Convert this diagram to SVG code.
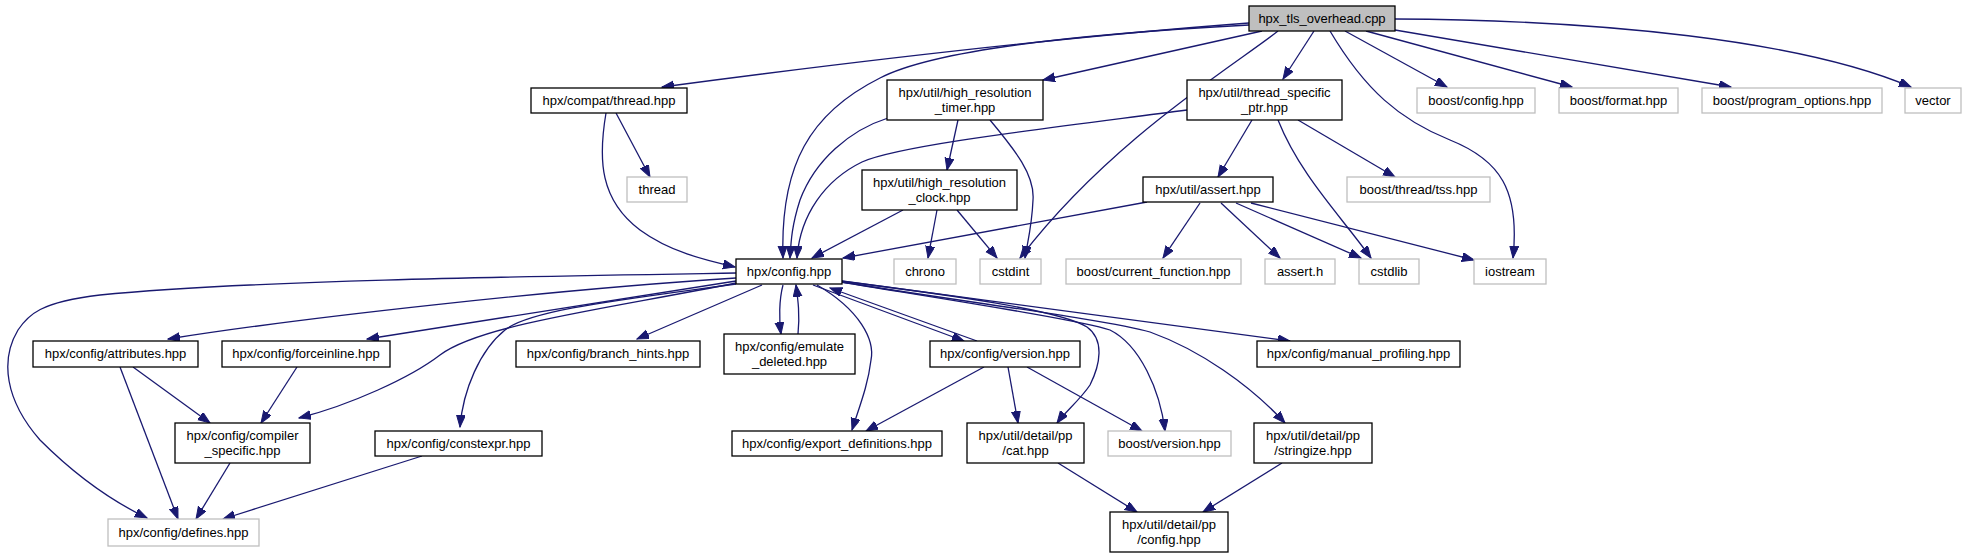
<svg xmlns="http://www.w3.org/2000/svg" width="1967" height="559" viewBox="0 0 1967 559">
<defs>
<marker id="ah" markerUnits="userSpaceOnUse" markerWidth="13" markerHeight="10" refX="12" refY="4.5" orient="auto">
<path d="M0,0 L12,4.5 L0,9 z" fill="#191970" stroke="#191970" stroke-width="1"/>
</marker>
</defs>
<style>
.e{fill:none;stroke:#191970;stroke-width:1.3;marker-end:url(#ah)}
.n rect{fill:#fff;stroke:#000;stroke-width:1.3}
.g rect{fill:#fff;stroke:#bfbfbf;stroke-width:1.3}
.r rect{fill:#bfbfbf;stroke:#000;stroke-width:1.3}
text{font-family:"Liberation Sans",Arial,sans-serif;font-size:13px;text-anchor:middle;fill:#000}
</style>
<rect width="1967" height="559" fill="#fff"/>
<g id="edges">
<path class="e" d="M1249,23 C1050,38 850,62 662,87"/>
<path class="e" d="M1249,25 C1060,35 930,52 880,78 C810,113 780,165 783,258"/>
<path class="e" d="M1262,31 L1043,80"/>
<path class="e" d="M1314,31 L1283,79"/>
<path class="e" d="M1278,31 C1235,65 1110,140 1020,258"/>
<path class="e" d="M1330,31 C1365,90 1400,120 1450,140 C1500,160 1520,190 1513,258"/>
<path class="e" d="M1345,31 L1447,87"/>
<path class="e" d="M1366,31 L1572,87"/>
<path class="e" d="M1395,30 L1731,87"/>
<path class="e" d="M1395,19 C1600,20 1800,40 1911,87"/>
<path class="e" d="M616,113 L650,177"/>
<path class="e" d="M606,113 C598,160 600,200 640,230 C670,252 705,260 735,267"/>
<path class="e" d="M888,118 C850,130 815,160 800,200 C792,225 791,240 790,258"/>
<path class="e" d="M958,120 L947,170"/>
<path class="e" d="M990,120 C1015,150 1035,175 1033,200 C1032,225 1028,240 1025,258"/>
<path class="e" d="M1187,110 C1050,128 900,145 862,162 C825,180 800,215 797,258"/>
<path class="e" d="M1252,120 L1218,177"/>
<path class="e" d="M1278,120 C1300,175 1340,215 1371,258"/>
<path class="e" d="M1298,120 L1395,177"/>
<path class="e" d="M903,210 L812,258"/>
<path class="e" d="M937,210 L928,258"/>
<path class="e" d="M957,210 L997,258"/>
<path class="e" d="M1147,202 L843,258"/>
<path class="e" d="M1200,203 L1163,258"/>
<path class="e" d="M1221,203 L1280,258"/>
<path class="e" d="M1236,203 L1361,258"/>
<path class="e" d="M1251,203 L1474,260"/>
<path class="e" d="M736,273 C550,276 250,280 100,295 C40,302 28,315 18,330 C0,360 5,400 40,440 C80,480 120,505 147,518"/>
<path class="e" d="M736,278 C550,290 300,318 168,339"/>
<path class="e" d="M736,281 L367,339"/>
<path class="e" d="M736,283 C600,310 480,325 440,355 C410,378 350,405 299,418"/>
<path class="e" d="M736,284 C620,300 530,310 505,330 C480,350 463,390 460,427"/>
<path class="e" d="M762,285 L637,339"/>
<path class="e" d="M783,285 C779,300 779,320 781,334"/>
<path class="e" d="M798,334 C800,315 798,300 796,285"/>
<path class="e" d="M817,285 C860,310 875,340 871,360 C868,385 860,405 852,430"/>
<path class="e" d="M813,285 L964,341"/>
<path class="e" d="M977,341 L830,288"/>
<path class="e" d="M840,281 C950,295 1060,310 1087,327 C1105,340 1100,365 1090,385 C1080,400 1065,412 1057,423"/>
<path class="e" d="M841,282 C950,300 1080,320 1110,330 C1140,345 1160,390 1165,431"/>
<path class="e" d="M842,282 C950,300 1110,320 1150,332 C1200,350 1250,385 1285,423"/>
<path class="e" d="M842,281 L1290,341"/>
<path class="e" d="M984,367 L866,431"/>
<path class="e" d="M1008,367 L1018,423"/>
<path class="e" d="M1027,367 L1142,431"/>
<path class="e" d="M133,367 L210,423"/>
<path class="e" d="M120,367 L178,519"/>
<path class="e" d="M297,367 L261,423"/>
<path class="e" d="M230,463 L196,519"/>
<path class="e" d="M422,456 L223,519"/>
<path class="e" d="M1058,463 L1137,512"/>
<path class="e" d="M1282,463 L1203,512"/>
</g>
<g id="tls" class="r"><rect x="1249" y="6" width="146" height="25"/><text x="1322" y="23">hpx_tls_overhead.cpp</text></g>
<g id="compat_thread" class="n"><rect x="531" y="88" width="156" height="25"/><text x="609" y="105">hpx/compat/thread.hpp</text></g>
<g id="hr_timer" class="n"><rect x="887" y="80" width="156" height="40"/><text x="965" y="97">hpx/util/high_resolution</text><text x="965" y="112">_timer.hpp</text></g>
<g id="tsp" class="n"><rect x="1187" y="80" width="155" height="40"/><text x="1264.5" y="97">hpx/util/thread_specific</text><text x="1264.5" y="112">_ptr.hpp</text></g>
<g id="boost_config" class="g"><rect x="1417" y="88" width="118" height="25"/><text x="1476" y="105">boost/config.hpp</text></g>
<g id="boost_format" class="g"><rect x="1559" y="88" width="119" height="25"/><text x="1618.5" y="105">boost/format.hpp</text></g>
<g id="boost_po" class="g"><rect x="1702" y="88" width="180" height="25"/><text x="1792" y="105">boost/program_options.hpp</text></g>
<g id="vector" class="g"><rect x="1905" y="88" width="56" height="25"/><text x="1933" y="105">vector</text></g>
<g id="thread" class="g"><rect x="627" y="177" width="60" height="25"/><text x="657" y="194">thread</text></g>
<g id="hr_clock" class="n"><rect x="862" y="170" width="155" height="40"/><text x="939.5" y="187">hpx/util/high_resolution</text><text x="939.5" y="202">_clock.hpp</text></g>
<g id="assert_hpp" class="n"><rect x="1143" y="177" width="130" height="25"/><text x="1208" y="194">hpx/util/assert.hpp</text></g>
<g id="tss" class="g"><rect x="1347" y="177" width="143" height="25"/><text x="1418.5" y="194">boost/thread/tss.hpp</text></g>
<g id="config" class="n"><rect x="736" y="259" width="106" height="25"/><text x="789" y="276">hpx/config.hpp</text></g>
<g id="chrono" class="g"><rect x="894" y="259" width="62" height="25"/><text x="925" y="276">chrono</text></g>
<g id="cstdint" class="g"><rect x="980" y="259" width="61" height="25"/><text x="1010.5" y="276">cstdint</text></g>
<g id="curfunc" class="g"><rect x="1066" y="259" width="175" height="25"/><text x="1153.5" y="276">boost/current_function.hpp</text></g>
<g id="assert_h" class="g"><rect x="1265" y="259" width="70" height="25"/><text x="1300" y="276">assert.h</text></g>
<g id="cstdlib" class="g"><rect x="1359" y="259" width="60" height="25"/><text x="1389" y="276">cstdlib</text></g>
<g id="iostream" class="g"><rect x="1474" y="259" width="72" height="25"/><text x="1510" y="276">iostream</text></g>
<g id="attributes" class="n"><rect x="33" y="341" width="165" height="26"/><text x="115.5" y="358">hpx/config/attributes.hpp</text></g>
<g id="forceinline" class="n"><rect x="222" y="341" width="168" height="26"/><text x="306" y="358">hpx/config/forceinline.hpp</text></g>
<g id="branch_hints" class="n"><rect x="516" y="341" width="184" height="26"/><text x="608" y="358">hpx/config/branch_hints.hpp</text></g>
<g id="emulate_deleted" class="n"><rect x="724" y="334" width="131" height="40"/><text x="789.5" y="351">hpx/config/emulate</text><text x="789.5" y="366">_deleted.hpp</text></g>
<g id="version" class="n"><rect x="930" y="341" width="150" height="26"/><text x="1005" y="358">hpx/config/version.hpp</text></g>
<g id="manual_profiling" class="n"><rect x="1257" y="341" width="203" height="26"/><text x="1358.5" y="358">hpx/config/manual_profiling.hpp</text></g>
<g id="compiler_specific" class="n"><rect x="175" y="423" width="135" height="40"/><text x="242.5" y="440">hpx/config/compiler</text><text x="242.5" y="455">_specific.hpp</text></g>
<g id="constexpr" class="n"><rect x="375" y="431" width="167" height="25"/><text x="458.5" y="448">hpx/config/constexpr.hpp</text></g>
<g id="export_definitions" class="n"><rect x="732" y="431" width="210" height="25"/><text x="837" y="448">hpx/config/export_definitions.hpp</text></g>
<g id="pp_cat" class="n"><rect x="967" y="423" width="117" height="40"/><text x="1025.5" y="440">hpx/util/detail/pp</text><text x="1025.5" y="455">/cat.hpp</text></g>
<g id="boost_version" class="g"><rect x="1108" y="431" width="123" height="25"/><text x="1169.5" y="448">boost/version.hpp</text></g>
<g id="pp_stringize" class="n"><rect x="1254" y="423" width="118" height="40"/><text x="1313" y="440">hpx/util/detail/pp</text><text x="1313" y="455">/stringize.hpp</text></g>
<g id="defines" class="g"><rect x="108" y="519" width="151" height="27"/><text x="183.5" y="537">hpx/config/defines.hpp</text></g>
<g id="pp_config" class="n"><rect x="1110" y="512" width="118" height="40"/><text x="1169" y="529">hpx/util/detail/pp</text><text x="1169" y="544">/config.hpp</text></g>
</svg>
